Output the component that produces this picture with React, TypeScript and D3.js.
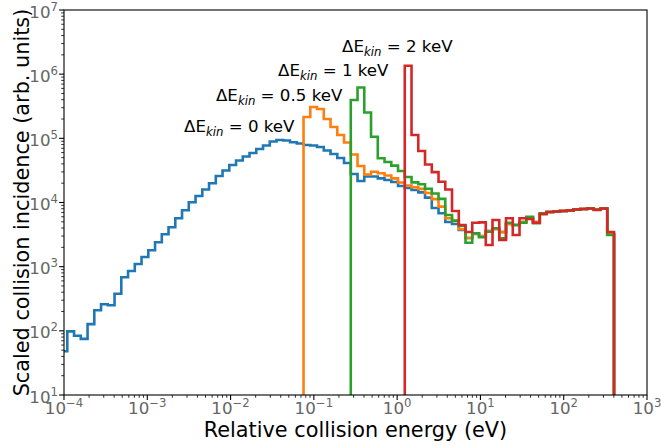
import React from "react";
import * as d3 from "d3";

const W = 661;
const H = 446;
const M = { left: 64, right: 14, top: 10, bottom: 51 };

const X_DOMAIN = [1e-4, 1e3];
const Y_DOMAIN = [1e1, 1e7];
const X_EXPONENTS = [-4, -3, -2, -1, 0, 1, 2, 3];
const Y_EXPONENTS = [1, 2, 3, 4, 5, 6, 7];

// histogram bins (log-spaced)
const BIN_LOG_START = -4.0414;
const BIN_LOG_STEP = 0.08104;
const N_BINS = 82;

// ΔE_kin = 0 keV
const blueStart = 0;
const blue = [
  48, 98, 84, 75, 127, 209, 260, 250, 378, 683,
  857, 1100, 1415, 1800, 2400, 3200, 4110, 5680, 7560, 10070,
  12600, 15950, 19900, 25900, 31500, 38400, 45200, 52100, 59100, 68200,
  77300, 89300, 94300, 92500, 86700, 83100, 78700, 77300, 73300, 64600,
  57000, 49400, 41300, 27800, 21600, 25400, 25400, 23800, 22400, 20900,
  18100, 16800, 15700, 14400, 11900, 8200, 6790, 4970, 4620, 3730,
  2800, 3230, 3010, 3600, 3870, 3470, 4620, 4460, 4970, 5740,
  4970, 6620, 7110, 7240, 7380, 7510, 7780, 7920, 8070, 7780,
  8070, 3230,
];

// ΔE_kin = 0.5 keV
const orangeStart = 36;
const orange = [
  215000, 308000, 287000, 200000, 150000, 113000, 86100, 56000, 37100, 27300,
  30200, 28500, 26400, 23800, 20500, 18400, 17300, 16300, 14100, 11300,
  8610, 5680, 5150, 3820,
  2800, 3250, 2980, 3580, 3880, 3450, 4650, 4450, 4950, 5750,
  4950, 6650, 7100, 7250, 7400, 7520, 7800, 7930, 8080, 7800,
  8080, 3250,
];

// ΔE_kin = 1 keV
const greenStart = 43;
const green = [
  396000, 620000, 253000, 106000, 48900, 42800, 37500, 31000, 25000, 20600,
  19200, 16400, 13800, 11400,
  6380, 5210, 4300, 2360, 3310, 2870, 3510, 3960, 2770, 4840,
  4460, 4840, 6010, 4740, 6790, 7110, 7240, 7380, 7510, 7780,
  7920, 8070, 7780, 8070, 3120,
];

// ΔE_kin = 2 keV
const redStart = 51;
const red = [
  1350000, 113000, 63500, 39100, 29700, 21100, 15950, 7380, 4460, 3470,
  4840, 4900, 2180, 5340, 2610, 5680, 3120, 5680, 5530, 4840,
  6620, 7110, 7240, 7380, 7510, 7780, 7920, 8070, 7650, 8070,
  3470,
];

const SERIES = [
  { start: blueStart, values: blue, color: "#1f77b4" },
  { start: orangeStart, values: orange, color: "#ff7f0e" },
  { start: greenStart, values: green, color: "#2ca02c" },
  { start: redStart, values: red, color: "#d62728" },
];

const ANNOTATIONS = [
  { label: "0 keV", x: 0.00276, y: 1.26e5 },
  { label: "0.5 keV", x: 0.00668, y: 3.82e5 },
  { label: "1 keV", x: 0.0371, y: 9.37e5 },
  { label: "2 keV", x: 0.218, y: 2.215e6 },
];

const FONT = "DejaVu Sans, sans-serif";
const TICK_COLOR = "#666666";

export default function App() {
  const x0 = M.left;
  const x1 = W - M.right;
  const y0 = H - M.bottom;
  const y1 = M.top;
  const x = d3.scaleLog().domain(X_DOMAIN).range([x0, x1]);
  const y = d3.scaleLog().domain(Y_DOMAIN).range([y0, y1]);

  const edges = d3.range(N_BINS + 1).map((i) => Math.pow(10, BIN_LOG_START + i * BIN_LOG_STEP));

  const stepPath = (start: number, vals: number[]) => {
    let d = `M${x(edges[start])},${y0 + 10}`;
    vals.forEach((v, i) => {
      d += `V${y(v)}H${x(edges[start + i + 1])}`;
    });
    d += `V${y0 + 10}`;
    return d;
  };

  const xMinor: number[] = [];
  for (let e = -4; e < 3; e++) for (let k = 2; k <= 9; k++) xMinor.push(k * Math.pow(10, e));
  const yMinor: number[] = [];
  for (let e = 1; e < 7; e++) for (let k = 2; k <= 9; k++) yMinor.push(k * Math.pow(10, e));

  const fmtExp = (e: number) => (e < 0 ? "\u2212" + Math.abs(e) : String(e));

  return (
    <svg width={W} height={H} style={{ display: "block", position: "absolute", left: 0, top: 0 }}>
      <rect x={0} y={0} width={W} height={H} fill="#fff" />
      <defs>
        <clipPath id="plotclip">
          <rect x={x0} y={y1} width={x1 - x0} height={y0 - y1} />
        </clipPath>
      </defs>
      <g clipPath="url(#plotclip)">
        {SERIES.map((s, i) => (
          <path
            key={i}
            d={stepPath(s.start, s.values)}
            fill="none"
            stroke={s.color}
            strokeWidth={2.6}
            strokeLinejoin="miter"
          />
        ))}
      </g>
      {/* spines */}
      <rect x={x0} y={y1} width={x1 - x0} height={y0 - y1} fill="none" stroke="#000" strokeWidth={1.1} />
      {/* x ticks */}
      {xMinor.map((v, i) => (
        <line key={"xm" + i} x1={x(v)} x2={x(v)} y1={y0} y2={y0 + 2.8} stroke="#000" strokeWidth={0.8} />
      ))}
      {X_EXPONENTS.map((e) => (
        <g key={"xt" + e}>
          <line x1={x(Math.pow(10, e))} x2={x(Math.pow(10, e))} y1={y0} y2={y0 + 4.9} stroke="#000" strokeWidth={1.1} />
          <text x={x(Math.pow(10, e))} y={414} textAnchor="middle" fontFamily={FONT} fontSize={16.7} fill={TICK_COLOR}>
            <tspan>10</tspan>
            <tspan fontSize={11.7} dy={-7}>{fmtExp(e)}</tspan>
          </text>
        </g>
      ))}
      {/* y ticks */}
      {yMinor.map((v, i) => (
        <line key={"ym" + i} x1={x0 - 2.8} x2={x0} y1={y(v)} y2={y(v)} stroke="#000" strokeWidth={0.8} />
      ))}
      {Y_EXPONENTS.map((e) => (
        <g key={"yt" + e}>
          <line x1={x0 - 4.9} x2={x0} y1={y(Math.pow(10, e))} y2={y(Math.pow(10, e))} stroke="#000" strokeWidth={1.1} />
          <text x={58} y={y(Math.pow(10, e)) + 7.5} textAnchor="end" fontFamily={FONT} fontSize={16.7} fill={TICK_COLOR}>
            <tspan>10</tspan>
            <tspan fontSize={11.7} dy={-7}>{fmtExp(e)}</tspan>
          </text>
        </g>
      ))}
      {/* axis labels */}
      <text x={(x0 + x1) / 2} y={437} textAnchor="middle" fontFamily={FONT} fontSize={20.8} fill="#000">
        Relative collision energy (eV)
      </text>
      <text
        transform={`translate(29,${(y0 + y1) / 2}) rotate(-90)`}
        textAnchor="middle"
        fontFamily={FONT}
        fontSize={20.8}
        fill="#000"
      >
        Scaled collision incidence (arb. units)
      </text>
      {/* annotations */}
      {ANNOTATIONS.map((a, i) => (
        <text key={"an" + i} x={x(a.x)} y={y(a.y)} fontFamily={FONT} fontSize={16.67} fill="#000" style={{ whiteSpace: "pre" }}>
          <tspan>ΔE</tspan>
          <tspan fontStyle="italic" fontSize={11.7} dy={4}>kin</tspan>
          <tspan dy={-4}>{" = " + a.label}</tspan>
        </text>
      ))}
    </svg>
  );
}
